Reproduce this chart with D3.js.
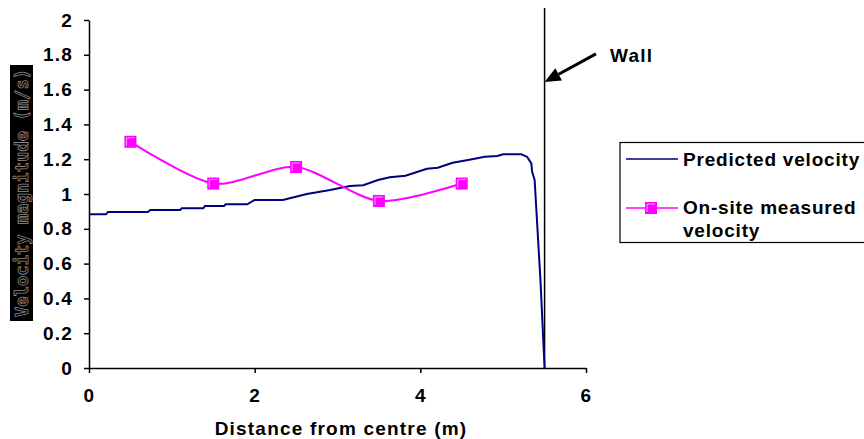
<!DOCTYPE html>
<html>
<head>
<meta charset="utf-8">
<script src="https://cdn.jsdelivr.net/npm/d3@7"></script>
<style>
  body { margin: 0; background: #fff; }
  svg { display: block; font-family: "Liberation Sans", Arial, sans-serif; }
  .axis text { font-family: "Liberation Sans", Arial, sans-serif; font-size: 19px; font-weight: bold; fill: #000; letter-spacing: 1.2px; }
  .axis path, .axis line { stroke: #000; stroke-width: 1.5; }
  .label-text { font-size: 19px; font-weight: bold; letter-spacing: 1.2px; }
  .legend-text { font-size: 19px; font-weight: bold; letter-spacing: 0.8px; }
</style>
</head>
<body>
<div id="chart"></div>
<script>
// predicted velocity profile (distance m, velocity m/s)
const predictedX = [0, 0.205, 0.23, 0.71, 0.74, 1.10, 1.12, 1.38, 1.40, 1.63, 1.65, 1.91, 2.0, 2.34, 2.63, 2.91,
  3.15, 3.31, 3.49, 3.63, 3.82, 4.08, 4.21, 4.39, 4.56, 4.78, 4.93, 5.0, 5.22, 5.29, 5.34, 5.35, 5.38, 5.45, 5.5];
const predictedY = [0.883, 0.883, 0.897, 0.897, 0.908, 0.908, 0.918, 0.918, 0.931, 0.931, 0.941, 0.941, 0.966, 0.966, 1.0, 1.023,
  1.046, 1.05, 1.08, 1.096, 1.105, 1.145, 1.151, 1.18, 1.194, 1.214, 1.218, 1.228, 1.228, 1.213, 1.176, 1.128, 1.08, 0.506, 0];

// on-site measurements
const measuredX = [0.5, 1.5, 2.5, 3.5, 4.5];
const measuredY = [1.30, 1.06, 1.155, 0.96, 1.06];

const xTicks = [0, 2, 4, 6];
const yTicks = [0, 0.2, 0.4, 0.6, 0.8, 1, 1.2, 1.4, 1.6, 1.8, 2];
const wallX = 5.5;

const width = 864, height = 439;
const margins = { top: 20, left: 89 };
const chartWidth = 497, chartHeight = 348;

const svg = d3.select('#chart').append('svg')
  .attr('width', width)
  .attr('height', height);

const plotG = svg.append('g')
  .attr('transform', `translate(${margins.left},${margins.top})`);

const xScale = d3.scaleLinear().domain([0, 6]).range([0, chartWidth]);
const yScale = d3.scaleLinear().domain([0, 2]).range([chartHeight, 0]);

const xAxis = d3.axisBottom(xScale).tickValues(xTicks).tickSize(5).tickSizeOuter(0).tickPadding(16)
  .tickFormat(d3.format('d'));
const yAxis = d3.axisLeft(yScale).tickValues(yTicks).tickSize(5).tickSizeOuter(0).tickPadding(11)
  .tickFormat(d => String(d));

plotG.append('g')
  .attr('class', 'x axis')
  .attr('transform', `translate(0,${chartHeight})`)
  .call(xAxis);

plotG.append('g')
  .attr('class', 'y axis')
  .call(yAxis);

// wall line
plotG.append('line')
  .attr('x1', xScale(wallX)).attr('x2', xScale(wallX))
  .attr('y1', -12).attr('y2', chartHeight)
  .attr('stroke', '#000').attr('stroke-width', 1.5);

// predicted velocity
const predicted = predictedX.map((x, i) => ({ x, y: predictedY[i] }));
plotG.append('path')
  .attr('d', d3.line().x(d => xScale(d.x)).y(d => yScale(d.y))(predicted))
  .attr('fill', 'none')
  .attr('stroke', '#000080')
  .attr('stroke-width', 2);

// measured velocity
const measured = measuredX.map((x, i) => ({ x, y: measuredY[i] }));
plotG.append('path')
  .attr('d', d3.line().curve(d3.curveCardinal.tension(0.2)).x(d => xScale(d.x)).y(d => yScale(d.y))(measured))
  .attr('fill', 'none')
  .attr('stroke', '#ff00ff')
  .attr('stroke-width', 2);

function marker(g, cx, cy) {
  g.append('rect')
    .attr('x', cx - 6).attr('y', cy - 6)
    .attr('width', 12).attr('height', 12)
    .attr('fill', '#ff00ff');
  g.append('path')
    .attr('d', `M${cx - 4},${cy + 4}V${cy - 4}H${cx + 4}`)
    .attr('fill', 'none')
    .attr('stroke', '#ffc0ff')
    .attr('stroke-width', 0.8);
}
measured.forEach(d => marker(plotG, xScale(d.x), yScale(d.y)));

// wall annotation
const tipX = xScale(wallX), tipY = yScale(1.644);
const tailX = xScale(6.12), tailY = yScale(1.805);
const ang = Math.atan2(tipY - tailY, tipX - tailX);
const headLen = 16, headW = 7;
const bx = tipX - headLen * Math.cos(ang), by = tipY - headLen * Math.sin(ang);
plotG.append('line')
  .attr('x1', tailX).attr('y1', tailY).attr('x2', bx).attr('y2', by)
  .attr('stroke', '#000').attr('stroke-width', 3);
plotG.append('path')
  .attr('d', `M${tipX},${tipY}L${bx + headW * Math.sin(ang)},${by - headW * Math.cos(ang)}L${bx - headW * Math.sin(ang)},${by + headW * Math.cos(ang)}Z`)
  .attr('fill', '#000');
svg.append('text')
  .attr('class', 'label-text')
  .attr('x', 610).attr('y', 62)
  .text('Wall');

// axis titles
svg.append('text')
  .attr('class', 'label-text')
  .attr('x', 341).attr('y', 435)
  .style('text-anchor', 'middle')
  .text('Distance from centre (m)');

const yLab = svg.append('g').attr('transform', 'translate(21.5,193) rotate(-90)');
yLab.append('rect')
  .attr('x', -128).attr('y', -11.5)
  .attr('width', 256).attr('height', 23)
  .attr('fill', '#000');
yLab.append('text')
  .attr('x', 0).attr('y', 6)
  .style('text-anchor', 'middle')
  .style('font-family', '"DejaVu Sans Mono", monospace')
  .style('font-size', '17px')
  .style('font-weight', 'bold')
  .attr('textLength', 248)
  .attr('fill', '#000')
  .attr('stroke', '#8a8a8a')
  .attr('stroke-width', 0.8)
  .text('Velocity magnitude (m/s)');

// legend
const legend = svg.append('g');
legend.append('rect')
  .attr('x', 620).attr('y', 142.5)
  .attr('width', 260).attr('height', 100)
  .attr('fill', '#fff').attr('stroke', '#000').attr('stroke-width', 1.2);
legend.append('line')
  .attr('x1', 626).attr('x2', 678).attr('y1', 159).attr('y2', 159)
  .attr('stroke', '#000080').attr('stroke-width', 1.5);
legend.append('text').attr('class', 'legend-text').attr('x', 683).attr('y', 166).text('Predicted velocity');
legend.append('line')
  .attr('x1', 626).attr('x2', 678).attr('y1', 208).attr('y2', 208)
  .attr('stroke', '#ff00ff').attr('stroke-width', 1.5);
marker(legend, 651, 208);
legend.append('text').attr('class', 'legend-text').attr('x', 683).attr('y', 214).text('On-site measured');
legend.append('text').attr('class', 'legend-text').attr('x', 683).attr('y', 237).text('velocity');
</script>
</body>
</html>
